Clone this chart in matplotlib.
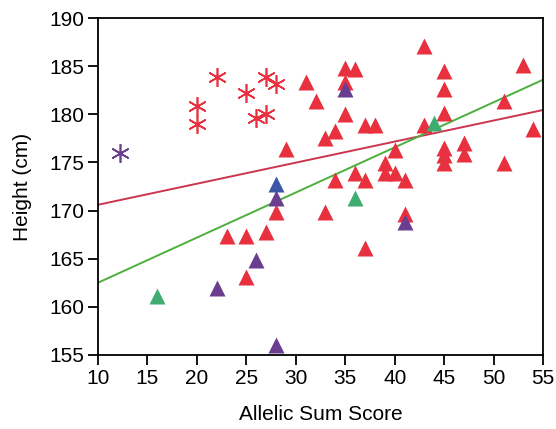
import matplotlib
matplotlib.use("Agg")
import matplotlib.pyplot as plt
import numpy as np

plt.rcParams['font.family'] = ['Liberation Sans', 'DejaVu Sans']

# red asterisks
ast_red_x = [20, 20, 22, 25, 27, 28, 26, 27]
ast_red_y = [180.9, 179.0, 183.9, 182.2, 183.9, 183.1, 179.6, 180.0]
# purple asterisk
ast_pur_x = [12.2]
ast_pur_y = [176.0]

# red triangles
tri_red_x = [31, 32, 29, 35, 36, 35, 35, 43, 45, 45, 45, 53, 51, 54, 43,
             37, 38, 34, 33, 40, 45, 45, 45, 47, 47, 51, 39, 39, 40, 41,
             36, 37, 34, 33, 41, 37, 28, 23, 25, 27, 25]
tri_red_y = [183.4, 181.4, 176.4, 184.8, 184.7, 183.4, 180.0, 187.1, 184.5, 182.6, 180.1, 185.1, 181.4, 178.5, 178.9,
             178.9, 178.9, 178.3, 177.5, 176.3, 176.5, 175.8, 174.9, 177.0, 175.9, 174.9, 174.9, 173.9, 173.9, 173.2,
             173.9, 173.2, 173.2, 169.9, 169.6, 166.1, 169.9, 167.4, 167.4, 167.8, 163.1]
# purple triangles
tri_pur_x = [35, 41, 28, 26, 22, 28]
tri_pur_y = [182.6, 168.8, 171.3, 164.9, 162.0, 156.0]
# blue triangles
tri_blu_x = [28]
tri_blu_y = [172.8]
# green triangles
tri_grn_x = [44, 36, 16]
tri_grn_y = [179.1, 171.3, 161.1]

# fitted lines (endpoints at x = 10 and 55)
line_x = [10, 55]
red_line_y = [170.6, 180.45]
green_line_y = [162.5, 183.6]

c_red = '#e8303f'
c_pur = '#6a3d8f'
c_blu = '#3c55a5'
c_grn = '#3fac72'

fig = plt.figure(figsize=(5.56, 4.29), dpi=100)
ax = fig.add_axes([0.176, 0.1725, 0.801, 0.7855])

ax.plot(line_x, red_line_y, color='#cc3550', lw=1.4, zorder=2)
ax.plot(line_x, green_line_y, color='#4caf3c', lw=1.4, zorder=2)

ms = 11.5
ax.plot(tri_red_x, tri_red_y, '^', color=c_red, ms=ms, mec='none', zorder=3)
ax.plot(tri_pur_x, tri_pur_y, '^', color=c_pur, ms=ms, mec='none', zorder=4)
ax.plot(tri_blu_x, tri_blu_y, '^', color=c_blu, ms=ms, mec='none', zorder=4)
ax.plot(tri_grn_x, tri_grn_y, '^', color=c_grn, ms=ms, mec='none', zorder=4)
ax.plot(ast_red_x, ast_red_y, marker=(6, 2, 0), ls='none', color=c_red, ms=13.5, mew=1.2, zorder=3)
ax.plot(ast_pur_x, ast_pur_y, marker=(6, 2, 0), ls='none', color=c_pur, ms=13.5, mew=1.2, zorder=3)

ax.set_xlim(10, 55)
ax.set_ylim(155, 190)
ax.set_xticks(np.arange(10, 56, 5))
ax.set_yticks(np.arange(155, 191, 5))
for s in ax.spines.values():
    s.set_linewidth(1.3)
ax.tick_params(direction='out', length=7, width=1.3, labelsize=15, pad=3)
ax.set_xlabel('Allelic Sum Score', fontsize=15, labelpad=12)
ax.set_ylabel('Height (cm)', fontsize=15, labelpad=12)

fig.savefig('out.png', dpi=100)
